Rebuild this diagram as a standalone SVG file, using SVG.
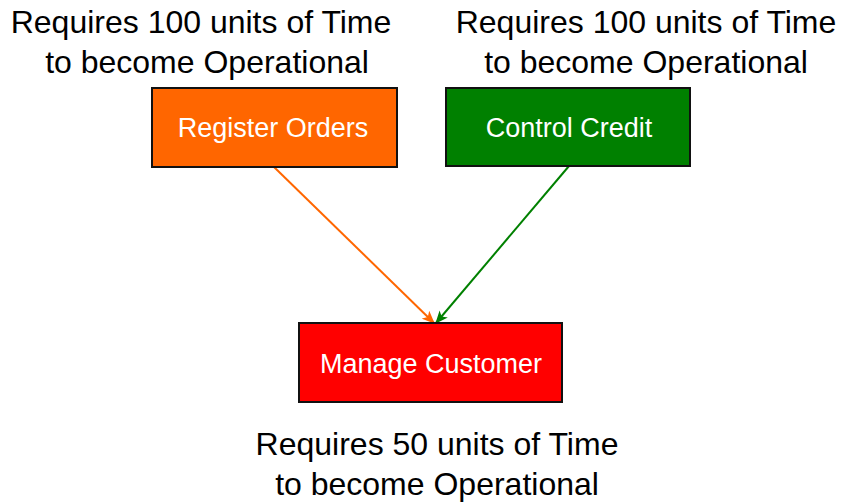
<svg xmlns="http://www.w3.org/2000/svg" width="855" height="504" viewBox="0 0 855 504">
  <style>
    .box { stroke: #111111; stroke-width: 2; }
    .boxlabel { font-family: "Liberation Sans", Arial, sans-serif; font-size: 27px; fill: #ffffff; text-anchor: middle; }
    .note { font-family: "Liberation Sans", Arial, sans-serif; font-size: 32px; fill: #000000; text-anchor: middle; }
    .edge { fill: none; stroke-width: 2; }
  </style>
  <defs>
    <marker id="headOrange" viewBox="0 0 12 10" refX="11" refY="5" markerWidth="13" markerHeight="11" markerUnits="userSpaceOnUse" orient="auto">
      <path d="M0,0 L12,5 L0,10 L3,5 Z" fill="#ff6600"/>
    </marker>
    <marker id="headGreen" viewBox="0 0 12 10" refX="11" refY="5" markerWidth="13" markerHeight="11" markerUnits="userSpaceOnUse" orient="auto">
      <path d="M0,0 L12,5 L0,10 L3,5 Z" fill="#008000"/>
    </marker>
  </defs>

  <rect width="855" height="504" fill="#ffffff"/>

  <!-- time requirement notes -->
  <g id="note-register">
    <text class="note" x="201" y="33">Requires 100 units of Time</text>
    <text class="note" x="207" y="73">to become Operational</text>
  </g>
  <g id="note-credit">
    <text class="note" x="646" y="33">Requires 100 units of Time</text>
    <text class="note" x="646" y="73">to become Operational</text>
  </g>
  <g id="note-customer">
    <text class="note" x="437" y="455">Requires 50 units of Time</text>
    <text class="note" x="437" y="495">to become Operational</text>
  </g>

  <!-- dependency connectors -->
  <g id="connectors">
    <line class="edge" x1="274" y1="167" x2="434" y2="323" stroke="#ff6600" marker-end="url(#headOrange)"/>
    <line class="edge" x1="569" y1="166" x2="436" y2="323" stroke="#008000" marker-end="url(#headGreen)"/>
  </g>

  <g id="register-orders">
    <rect class="box" x="152" y="88" width="245" height="79" fill="#ff6600"/>
    <text class="boxlabel" x="273" y="137">Register Orders</text>
  </g>
  <g id="control-credit">
    <rect class="box" x="446" y="88" width="244" height="78" fill="#008000"/>
    <text class="boxlabel" x="569" y="137">Control Credit</text>
  </g>
  <g id="manage-customer">
    <rect class="box" x="299" y="323" width="263" height="79" fill="#ff0000"/>
    <text class="boxlabel" x="431" y="373">Manage Customer</text>
  </g>
</svg>
